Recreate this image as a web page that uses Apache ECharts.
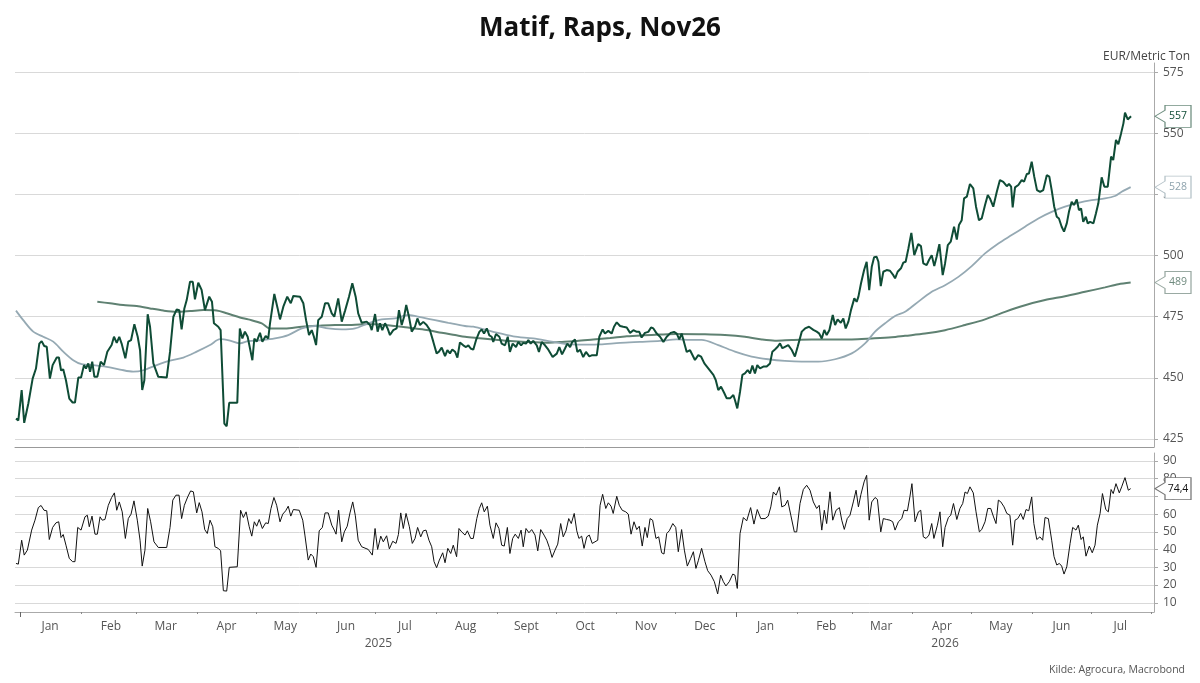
<!DOCTYPE html>
<html>
<head>
<meta charset="utf-8">
<title>Matif, Raps, Nov26</title>
<script src="https://cdn.jsdelivr.net/npm/echarts@6.0.0/dist/echarts.min.js"></script>
<style>
    html, body { margin: 0; padding: 0; background: #fff; }
    #chart { width: 1200px; height: 683px; }
</style>
</head>
<body>
<div id="chart"></div>
<script>
// [days since 2025-01-01, EUR/t]
const price = [[-2.4,433.3],[-1.2,432.6],[0.5,445],[1.8,431.6],[3.9,439.5],[6.1,449.7],[7.8,453.8],[9.5,464],[10.7,465],[12,463],[13.3,462.7],[14.9,449.7],[16.3,455.2],[18.4,458.3],[19.5,458.3],[20.6,453],[21.7,453.5],[23.1,449],[24.8,441.5],[26.5,439.9],[27.7,439.9],[29.4,450.1],[30.8,450.1],[32.3,455.2],[33.3,453.8],[34.5,455.9],[35.4,452.5],[36.5,456.6],[37.6,450.4],[39.1,450.4],[40.8,456.6],[42.5,455.2],[44.2,460.7],[46.4,463.4],[47.6,466.8],[49,464.3],[50.3,466.8],[51.5,464],[53.4,458],[54.9,464.8],[56.3,465.4],[58,471.9],[59.7,466.8],[60.9,461.3],[62,445],[63.1,449],[64.8,476],[66,470.9],[67.7,455.9],[70.2,450.4],[74.5,450.1],[76.2,460.7],[77.9,475],[79.6,478],[80.9,477.7],[82.1,469.8],[83.5,478.4],[84.7,481.8],[86.4,489.3],[87.8,489.3],[88.9,482.1],[90.6,488.9],[92.3,486],[94,477.7],[96.2,483.2],[97.6,481.1],[98.6,472.3],[100.8,470.9],[102,469.5],[103.9,431.3],[105.1,430.2],[106.4,439.8],[110.5,439.8],[111.8,470.2],[113.1,466.1],[114.4,468.9],[115.8,466.8],[117,462],[118.2,457.2],[119.2,466.1],[120.4,464.8],[122.1,468.4],[123.3,464.8],[125,467.1],[126.3,466.1],[127.2,472.3],[129.4,484.3],[131.1,478.4],[132.3,473.9],[134,479.1],[136,483.2],[137.8,480.5],[139.1,483.5],[142.5,483.2],[144.2,480.5],[145.6,473.6],[147.1,467.5],[148.5,469.5],[149.6,466.8],[150.7,463.4],[151.8,473.6],[153.6,475],[155.3,480.5],[156.9,480.5],[158.7,476.4],[160,475],[162,482.5],[163.8,473],[165.5,477.5],[167.5,483.2],[169.2,488.7],[170.9,483.2],[172.2,476.4],[174,472.5],[176.5,473],[178.2,471.6],[179.1,469.5],[180.8,476.1],[182.1,468.9],[183.3,472.3],[184.5,469.5],[185.9,472.3],[187.2,470.2],[188.4,467.5],[190.1,469.5],[191.8,470.2],[193,477.7],[194.4,471.6],[195.6,475],[196.7,479.8],[198.1,475],[199.5,468.9],[201.2,471],[202.4,474.3],[203.7,471.6],[205.4,472.9],[207.1,471.6],[208.8,469.5],[210.5,464.8],[212.2,460],[213.4,460.7],[214.8,462.4],[216.5,458.9],[217.7,461.3],[219,460],[220.2,461.6],[221.6,460.7],[222.8,458.3],[224.1,464.5],[225.8,463.3],[227.2,462.6],[228.4,463.3],[229.6,462],[230.9,461.5],[232.3,465.4],[234,468.8],[235.2,469.8],[236.4,468.1],[237.8,470.2],[239.1,467.4],[240.3,466.8],[241.1,464.7],[242.5,467.9],[244.2,466.8],[245.4,464],[247.1,463.3],[248.5,466.8],[249.6,460.6],[251,464],[252.7,462.6],[253.9,464.7],[255.3,463.3],[256.4,464.3],[257.8,464],[259,465.4],[260.2,464],[261.5,465.1],[263.3,463.3],[264.4,460.6],[265.8,464.7],[267.5,463.3],[269.2,461.5],[271.4,458.5],[273.5,459.9],[274.8,462.6],[276.2,459.6],[277.7,462],[278.9,464],[280.3,462.6],[281.4,464.7],[282.8,465.7],[284,460.6],[285.4,461.5],[287,458.5],[288.4,460.6],[290.1,458.8],[291.3,459.2],[293.9,459.2],[295.2,466.8],[296.9,469.8],[298.1,468.1],[299.8,469.2],[301.5,468.1],[302.7,470.9],[304.1,472.7],[305.8,471.2],[307.4,470.9],[309.2,470.6],[310.9,468.4],[312.6,469.5],[314.3,468.8],[315.6,468.8],[316.8,466.5],[318.5,468.4],[320.2,468.8],[321.6,470.6],[322.8,470.2],[324.5,468.1],[326.2,466.8],[327.9,464.7],[329.6,466.8],[331.6,468.4],[333.3,468.8],[334.7,468.1],[336,465.7],[337.2,468.1],[338.4,464.7],[339.8,460.6],[341.5,461.3],[342.3,460.7],[344,457.3],[345.7,459.3],[347.1,458.7],[348.8,455.9],[350.8,453.9],[353.4,451.2],[354.6,449.1],[355.9,445],[357.3,446.4],[359,443.7],[360.2,441.6],[361.9,441.6],[363.6,443],[364.4,440.9],[365.6,437.5],[367,444.3],[368.2,451.2],[369.5,451.8],[370.9,453.2],[372.1,451.8],[373.3,455],[374.6,451.8],[375.8,455.2],[377.2,453.9],[378.9,454.6],[380.6,454.6],[382.3,455.9],[383.5,460.7],[384.8,461.6],[386.2,462.7],[387.4,464.1],[388.6,462.1],[389.9,462.7],[391.6,463.4],[393.4,461.4],[395,458.7],[396.4,462.7],[398.5,468.9],[400.2,470.2],[402.2,470.9],[404.4,469.6],[406.1,468.9],[407.3,468.2],[408.7,466.1],[410,469.6],[411.2,467.5],[412.6,469.6],[414.3,475.7],[415.5,471.6],[416.8,473.9],[418.4,472.5],[419.7,474.3],[420.9,470.2],[422.3,473],[423.6,477.7],[425.3,482.5],[426.5,481.1],[427.4,483.2],[428.7,488.6],[430.3,494.1],[431.6,497.5],[432.9,485.9],[434.2,495.4],[435.4,499.3],[436.7,499.5],[437.6,497.5],[438.8,487.5],[440.1,493.4],[441.8,494.1],[443.5,493.8],[445.2,492],[446.1,490.7],[447.4,493.4],[449.1,494.8],[450.3,497.1],[451.5,497.5],[452.9,502.9],[454.4,509.3],[455.9,500.2],[457.9,504.7],[459.3,503.9],[460.5,496.8],[462.2,496.1],[463.4,498.2],[464.8,500.2],[466.1,495.7],[467.3,499.5],[468.7,504.7],[469.5,498.8],[470.4,492],[471.6,496.8],[473,504.3],[474.5,505.7],[476.2,511.8],[477.6,506.6],[478.7,512.5],[480.1,514.5],[481.3,523.4],[482.7,524.1],[484.3,529.3],[486,527.5],[487.4,520],[488.9,514.5],[490.3,515.2],[492,520.7],[493.4,524.8],[494.5,523.4],[496.2,520],[498,526.1],[499.6,530.9],[501.3,530.2],[503.1,528.4],[504.2,529.3],[505.3,528.2],[506.1,519.7],[507.3,527.9],[509,528.9],[510.7,530.9],[511.9,530.2],[513.3,533.4],[514.4,533.6],[515.8,538.4],[517.1,532.3],[518.5,526.8],[520.1,526.1],[521.7,526.8],[523.5,532.9],[524.8,532.3],[526,526.8],[527.3,520],[528.6,515.9],[529.7,515.2],[531.1,511.8],[532.3,509.8],[533.7,513.2],[534.8,517.9],[536.2,522],[537.4,520.7],[538.8,523],[539.9,518.6],[541,519.3],[542.1,513.8],[543.4,515.9],[544.4,513.2],[545.6,513.8],[547.3,513.2],[548.6,517.3],[549.8,521.4],[551.5,532],[552.9,528.2],[554.6,528.2],[556.3,540.5],[557.4,539.1],[558.8,547.3],[560,545.6],[561.4,550],[562.6,554.1],[563.4,558.5],[564.8,555.7],[566.5,557]];

// short moving average (light)
const maShort = [[-2.4,477.5],[1.3,473.6],[6.4,468.9],[11.5,466.8],[16.6,464.8],[21.7,460.7],[26.8,457.2],[31.1,455.6],[37,455.2],[43.9,454.5],[50.7,453.4],[57.4,452.5],[62.6,453.1],[69.4,455.2],[76.2,457],[83,458.3],[89.8,460.7],[96.6,463.4],[101.7,465.8],[106.8,465.2],[111.9,464.1],[116.1,465],[123,465.4],[129.7,466.1],[136.5,467.5],[143.4,470.2],[150.2,471.2],[156.9,470.2],[163.8,469.8],[170.6,470.2],[177.3,472.3],[184.2,473.9],[191,474.3],[197.8,475.7],[204.6,474.7],[211.4,473.6],[218.2,472.5],[226.7,471.2],[230.9,470.9],[241.1,468.8],[251.3,467],[261.5,466.1],[271.7,464.7],[280.3,463.7],[288.8,463.6],[295.6,463.7],[305.8,464.3],[315.9,464.7],[326.2,465.1],[334.7,465.7],[341.5,465.5],[347.4,465.5],[355.9,463.4],[364.4,460.7],[372.9,458.7],[381.4,457.6],[389.9,456.9],[398.5,456.6],[406.9,456.6],[415.5,457.6],[424,460],[430.8,464.1],[435.9,468.9],[441,472.3],[446.1,475.3],[451.2,477],[456.3,480.1],[464.8,485.2],[471.6,487.9],[478.4,491.3],[485.2,495.7],[492,500.9],[498.8,505],[505.6,508.4],[512.4,511.8],[519.2,515.2],[526,517.9],[532.8,520],[539.6,521.6],[546.4,522.7],[553.2,523.4],[558.3,524.4],[561.7,526.1],[566.3,528]];

// long moving average (dark)
const maLong = [[39.1,481.1],[45.6,480.5],[52.3,479.8],[59.2,479.4],[66,478.4],[72.8,477.5],[79.6,477],[86.4,477.3],[93.2,477.7],[100,477.5],[105.1,476.4],[111.9,474.7],[116.1,473.9],[123,472.3],[127.2,470.2],[134.8,470.2],[143.4,470.9],[151.8,471.3],[160.4,471.6],[168.9,471.6],[177.3,472],[185.9,471.6],[194.4,470.9],[201.2,470.2],[208,469.5],[214.8,468.4],[221.6,467.5],[226.7,466.8],[232.7,466.3],[241.1,465.7],[249.6,465.1],[258.2,464.7],[268.4,464.4],[275.2,464.7],[283.7,465.1],[292.1,465.7],[300.7,466.3],[309.2,467],[317.7,467.4],[326.2,467.7],[334.7,467.9],[349.1,467.8],[359.3,467.5],[369.5,466.8],[378.1,465.7],[384.8,465.2],[393.4,465.5],[403.6,465.7],[424,465.7],[434.2,466.1],[444.4,466.6],[451.2,467.2],[461.4,468.1],[471.6,469.5],[481.8,471.6],[492,473.9],[502.2,477],[512.4,479.7],[522.6,481.8],[532.8,483.4],[543,485.2],[553.2,487],[560,488.3],[566.3,489]];

// RSI, lower panel
const rsi = [[-2.4,32.2],[-1.2,31.8],[0.5,45.3],[1.8,36.9],[3.4,39.7],[5.6,51],[7.3,56.6],[9,63.7],[10.4,64.9],[11.9,62.2],[13.3,61.9],[14.6,45.7],[16.3,52.5],[18,55.1],[19.4,55.7],[20.6,46.8],[21.7,48.5],[23.1,42.5],[24.8,35],[26.5,33.2],[27.7,33.2],[29.1,52.5],[30.8,51],[32.8,58.5],[34,59.4],[35,52.9],[36.4,58.9],[37.9,48.7],[39.1,48.7],[40.5,58.5],[41.6,56.6],[43,57],[44.7,65],[46.4,69.4],[47.8,72],[49,62.2],[50.3,66.9],[51.8,61.3],[53.4,46.3],[54.9,57.5],[56.3,60],[57.8,67.5],[59.5,56.6],[60.9,45.3],[62,30.7],[63.4,39.7],[64.8,63.2],[66.3,55.7],[68,44.4],[70.2,41.2],[74.5,41.2],[76.2,52.5],[77.6,67.9],[79.2,70.7],[80.8,70.7],[82.1,57.5],[83.5,65],[85.2,69.7],[86.7,73.1],[88.1,72.6],[89.8,60.7],[91.1,66.5],[92.5,61.3],[93.9,51.3],[95.2,49.1],[96.6,56.6],[98,52.9],[99.1,41.6],[100.8,40.7],[102,39.3],[103.4,16.8],[105.1,16.6],[106.4,30],[110.5,30.3],[112.2,62.2],[113.6,58.1],[115,61.3],[116.6,52.9],[117.9,47.6],[119.2,55.7],[120.4,53.2],[121.7,57],[123.3,51.9],[125,55.1],[126.3,54.7],[127.7,63.2],[129.2,69.4],[130.6,65],[132.3,55.7],[133.7,60],[135.2,61.9],[136.5,64.5],[137.8,58.9],[139.1,62.6],[142.1,62.2],[143.9,56.6],[145,48.2],[146.7,34.1],[148,37.5],[149.3,36],[150.7,30],[152.3,50.6],[153.9,52.5],[155.3,60.7],[156.9,60.7],[158.7,53.8],[160,51],[160.9,48.7],[162.2,62.2],[163.8,44.4],[165.1,50],[166.6,53.2],[168,60.7],[169.4,66.9],[170.7,59.4],[172.2,45.3],[174,41.6],[177.3,40.1],[179.4,36.9],[180.8,51.9],[182.1,40.1],[183.7,47.6],[185,44.4],[186.7,47.8],[188.1,40.4],[189.8,44.7],[191.5,43.5],[192.7,48.5],[193.9,60.7],[195.2,51.9],[196.6,60.4],[198.3,52.9],[199.8,43.5],[201.2,46.3],[202.5,52.5],[204.1,47.2],[205.4,50.6],[206.8,51],[208.3,45.3],[209.7,41.6],[210.9,33.2],[212.2,29.8],[213.6,34.1],[215.3,38.2],[216.5,32.6],[217.9,40.7],[219.4,37.8],[220.7,42.5],[222.4,36],[223.6,51.9],[225,50],[226.7,48.2],[227.9,50.6],[229.6,46.3],[230.9,46.3],[232.7,57.5],[234,63.2],[235.2,66.4],[236.5,61.3],[238.1,64.5],[239.4,53.8],[241.1,46.3],[242.5,55.1],[244,51.9],[245.4,42.5],[246.7,42],[248.3,52.5],[249.6,37.8],[251,46.3],[252.3,48.7],[253.9,46.3],[255.3,51],[256.4,41.6],[257.8,51.9],[259.3,49.5],[260.7,51.3],[262.4,48.2],[263.8,39.3],[265.3,51.3],[267,48.2],[268.4,45.3],[269.7,41.2],[271.1,35.6],[272.6,39.7],[274,43.1],[275.5,54.7],[276.8,47.2],[278.2,50.6],[279.6,57.5],[280.9,54.7],[282.4,60.4],[283.7,50.6],[284.8,46.3],[286.2,47.6],[287.4,40.7],[288.8,47.2],[290.1,48.2],[291.6,43.5],[293,44.4],[294.4,45.3],[295.6,65],[296.9,71.2],[298.5,63.2],[299.8,66.4],[301.2,64.5],[302.3,60.4],[304.1,70.1],[305.4,65],[306.9,62.2],[308.7,61.3],[310,60],[311.4,48.7],[312.9,55.7],[314.3,51.3],[315.6,53.2],[317.1,42],[318.5,52.5],[319.7,46.8],[321.1,57.5],[322.4,56.6],[324.1,46.3],[325.5,47.2],[327,38.2],[328.2,37.5],[329.6,49.1],[330.9,50.6],[332.7,54.7],[334.2,52.5],[335.5,38.8],[337.2,51.3],[338.6,39.7],[340.1,30.7],[341.8,35],[343.2,38.8],[344.5,29.4],[345.7,33.7],[347.4,40.7],[349.1,33.2],[350.5,28.1],[352.2,25.6],[353.9,21.9],[355.6,15],[357.1,25.6],[358.5,21.9],[359.8,19.5],[361.5,21.9],[363.3,26.2],[364.4,25.6],[365.6,18.1],[367,49.1],[368.7,58.1],[370.4,56.2],[372.4,63.7],[374.1,54.4],[375.8,62.6],[377.6,57.5],[379.8,57.5],[381.4,58.9],[382.7,64.1],[384,72.5],[385.4,70.7],[387.1,75.4],[388.3,64.1],[390,65],[391.3,67.9],[392.9,59.4],[394.7,50],[395.9,50],[397.6,66],[399.3,73.9],[401,76.3],[402.7,73.5],[404.4,66.9],[406.1,63.2],[407.4,65],[408.7,51],[410,62.2],[411.2,54.7],[412.9,72.6],[414.3,56.6],[416,62.2],[417.7,63.7],[418.9,56.6],[420.2,51.4],[421.7,57.5],[423.1,59.4],[424.8,66.9],[426.2,73.5],[427.4,64.1],[428.7,71.2],[430.3,78.2],[431.6,81.9],[432.9,56.6],[434.2,66.9],[435.9,69.4],[437.1,68.3],[438.8,50],[440.1,57.5],[441.8,57],[443.5,56.6],[444.9,55.7],[446.1,51],[447.8,55.7],[449.5,57.5],[450.7,62.2],[452.4,61.9],[453.7,70.1],[454.7,77.2],[456.3,55.7],[458,61.3],[459.2,62.2],[460.5,47.2],[461.9,46.3],[463.4,48.2],[464.8,54.7],[465.9,46.3],[467.7,53.8],[469,61.3],[470.4,41.6],[471.6,52.5],[473.3,58.1],[474.5,59.4],[475.9,66],[477.6,57],[479.2,63.2],[480.6,66],[481.8,72.5],[483,71.6],[484.3,75.4],[486,72],[487.4,61.3],[489.1,50],[490.3,51.3],[492,55.7],[493.4,63.2],[494.9,63.2],[496.2,58.9],[497.6,54.7],[498.8,67.9],[500,67],[501.7,64.1],[503.1,60.4],[504.7,59.4],[506.1,42.5],[507.3,56.6],[508.7,57.5],[510.2,60.4],[511.5,57],[512.9,62.6],[514.3,61.9],[515.8,69.7],[516.9,54.7],[518.4,45.7],[520,47.2],[521.4,45.3],[522.6,58.1],[524.3,57.5],[526,45.3],[527.2,36],[528.6,31.3],[529.9,32.2],[531.1,30.7],[532.3,26.2],[533.7,30.3],[535.4,43.5],[536.7,52.5],[538.4,51],[539.6,53.8],[541,45.7],[542.1,47.2],[543.5,36.3],[545.2,42],[546.7,38.2],[548.1,42.5],[549.3,53.8],[550.7,60.4],[551.9,71.6],[553.6,62.6],[554.9,61.3],[556.3,73.9],[557.4,71.6],[558.8,77.2],[560.5,72],[561.7,75.4],[563.4,80.6],[565.1,73.5],[566.3,74.4]];

// axis ticks
const priceTicks = [425, 450, 475, 500, 525, 550, 575];
const rsiTicks = [10, 20, 30, 40, 50, 60, 70, 80, 90];
const monthNames = ['Jan', 'Feb', 'Mar', 'Apr', 'May', 'Jun', 'Jul', 'Aug', 'Sept', 'Oct', 'Nov', 'Dec'];
const years = [2025, 2026];

// x axis is counted in days from 1 Jan 2025
const DAY = 86400000;
const base = new Date(2025, 0, 1).getTime();
const dayOf = (y, m, d) => Math.round((new Date(y, m, d).getTime() - base) / DAY);
const dateOf = v => new Date(base + v * DAY);
const xMin = -2.9;
const xMax = 578.2;

// month boundaries and mid-month label positions
const monthStarts = [];
const monthMids = [];
for (let i = 0; i < 20; i++) {
    monthStarts.push(dayOf(2025, i, 1));
    if (i < 19) monthMids.push(dayOf(2025, i, 16));
}
const yearStarts = years.map(y => dayOf(y, 0, 1));
const yearMids = years.map(y => (Math.max(xMin, dayOf(y, 0, 1)) + Math.min(xMax, dayOf(y + 1, 0, 1))) / 2);

const cPrice = '#0f4c36';
const cShort = '#95a9b3';
const cLong = '#5f8172';
const font = 'Open Sans';

// last value tag on the right axis
const tagPath = 'path://M0,11 L10,5 L10,0 L36,0 L36,22 L10,22 L10,17 Z';
function tag(val, text, color, textColor) {
    return {
        symbol: tagPath,
        symbolSize: [36, 22],
        symbolOffset: [19, 0],
        silent: true,
        itemStyle: { color: '#fff', borderColor: color, borderWidth: 1 },
        label: {
            show: true, position: 'inside', offset: [5, 0],
            color: textColor, fontSize: 10.5, fontFamily: font,
            formatter: text
        },
        data: [{ coord: [xMax, val] }]
    };
}

const lastP = price[price.length - 1][1];
const lastS = maShort[maShort.length - 1][1];
const lastL = maLong[maLong.length - 1][1];
const lastR = rsi[rsi.length - 1][1];

const yLabel = { color: '#555', fontSize: 12, fontFamily: font, margin: 9 };
const grey = '#d9d9d9';

const option = {
    animation: false,
    backgroundColor: '#fff',
    title: [
        {
            text: 'Matif, Raps, Nov26', left: 'center', top: 11,
            textStyle: { fontSize: 26, fontWeight: 'bold', color: '#111', fontFamily: font }
        },
        {
            text: 'EUR/Metric Ton', right: 5, top: 46,
            textStyle: { fontSize: 12, fontWeight: 'normal', color: '#444', fontFamily: font }
        },
        {
            text: 'Kilde: Agrocura, Macrobond', right: 10, top: 660,
            textStyle: { fontSize: 10.5, fontWeight: 'normal', color: '#555', fontFamily: font }
        }
    ],
    grid: [
        { left: 15, right: 46, top: 63, height: 384 },
        { left: 15, right: 46, top: 453, height: 159 }
    ],
    xAxis: [
        {
            type: 'value', gridIndex: 0, min: xMin, max: xMax,
            axisLine: { onZero: false, lineStyle: { color: '#999' } },
            axisTick: { show: false }, axisLabel: { show: false }, splitLine: { show: false }
        },
        {
            type: 'value', gridIndex: 1, min: xMin, max: xMax,
            axisLine: { onZero: false, lineStyle: { color: '#aaa' } },
            axisTick: { show: true, length: 2, customValues: monthStarts, lineStyle: { color: '#888' } },
            axisLabel: {
                customValues: monthMids, margin: 9, color: '#555', fontSize: 12, fontFamily: font,
                formatter: v => monthNames[dateOf(v).getMonth()]
            },
            splitLine: { show: false }
        },
        {
            type: 'value', gridIndex: 1, min: xMin, max: xMax, position: 'bottom',
            axisLine: { show: false, onZero: false },
            axisTick: { show: true, length: 5, customValues: yearStarts, lineStyle: { color: '#666' } },
            axisLabel: {
                customValues: yearMids, margin: 26, color: '#555', fontSize: 12, fontFamily: font,
                formatter: v => String(dateOf(v).getFullYear())
            },
            splitLine: { show: false }
        }
    ],
    yAxis: [
        {
            type: 'value', gridIndex: 0, position: 'right', min: 421.7, max: 578.8,
            axisLine: { show: true, onZero: false, lineStyle: { color: '#aaa' } },
            axisTick: { show: true, length: 4, customValues: priceTicks, lineStyle: { color: '#aaa' } },
            axisLabel: Object.assign({ customValues: priceTicks }, yLabel),
            splitLine: { show: true, lineStyle: { color: grey } }
        },
        {
            type: 'value', gridIndex: 1, position: 'right', min: 4.8, max: 94.5,
            axisLine: { show: true, onZero: false, lineStyle: { color: '#aaa' } },
            axisTick: { show: true, length: 4, customValues: rsiTicks, lineStyle: { color: '#aaa' } },
            axisLabel: Object.assign({ customValues: rsiTicks }, yLabel),
            splitLine: { show: true, lineStyle: { color: grey } }
        }
    ],
    series: [
        {
            name: 'MA long', type: 'line', xAxisIndex: 0, yAxisIndex: 0,
            data: maLong, showSymbol: false, smooth: 0.3,
            lineStyle: { color: cLong, width: 2 }, itemStyle: { color: cLong },
            markPoint: tag(lastL, String(Math.round(lastL)), '#9aaaa3', '#6f8a7e')
        },
        {
            name: 'MA short', type: 'line', xAxisIndex: 0, yAxisIndex: 0,
            data: maShort, showSymbol: false, smooth: 0.3,
            lineStyle: { color: cShort, width: 1.8 }, itemStyle: { color: cShort },
            markPoint: tag(lastS, String(Math.round(lastS)), '#b5c2c8', '#8ea3ad')
        },
        {
            name: 'Raps Nov26', type: 'line', xAxisIndex: 0, yAxisIndex: 0,
            data: price, showSymbol: false,
            lineStyle: { color: cPrice, width: 2 }, itemStyle: { color: cPrice },
            markPoint: tag(lastP, String(Math.round(lastP)), '#6f8f80', cPrice)
        },
        {
            name: 'RSI', type: 'line', xAxisIndex: 1, yAxisIndex: 1,
            data: rsi, showSymbol: false,
            lineStyle: { color: '#111', width: 1 }, itemStyle: { color: '#111' },
            markPoint: tag(lastR, lastR.toFixed(1).replace('.', ','), '#777', '#111')
        }
    ]
};

const chart = echarts.init(document.getElementById('chart'));
chart.setOption(option);
</script>
</body>
</html>
